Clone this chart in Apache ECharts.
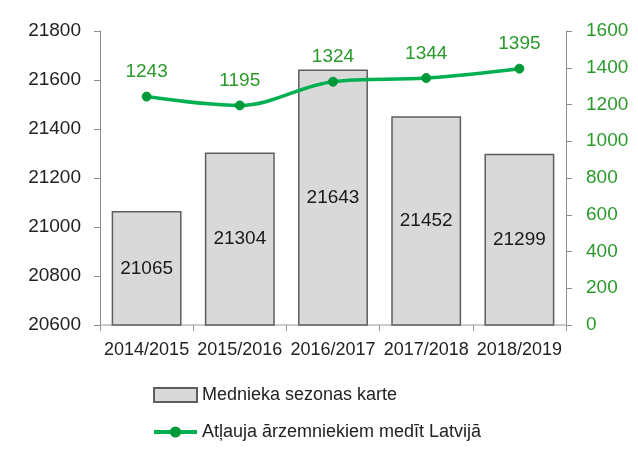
<!DOCTYPE html>
<html>
<head>
<meta charset="utf-8">
<title>Mednieka sezonas karte</title>
<script src="https://cdn.jsdelivr.net/npm/echarts@6/dist/echarts.min.js"></script>
<style>
  html, body { margin: 0; padding: 0; background: #fff; }
  #chart { width: 638px; height: 459px; }
</style>
</head>
<body>
<div id="chart"></div>
<script>
var seasons = ['2014/2015', '2015/2016', '2016/2017', '2017/2018', '2018/2019'];
var seasonCards = [21065, 21304, 21643, 21452, 21299];
var foreignPermits = [1243, 1195, 1324, 1344, 1395];

var green = '#00b050';
var greenText = '#2a9a2a';
var font = 'Liberation Sans';

function plain(v) { return String(v); }

var chart = echarts.init(document.getElementById('chart'));
var option = {
    animation: false,
    textStyle: { fontFamily: font },
    grid: { left: 100, right: 72, top: 31, bottom: 134 },
    legend: {
        orient: 'vertical',
        left: 152,
        top: 386,
        padding: 0,
        itemWidth: 43,
        itemHeight: 14,
        itemGap: 19,
        textStyle: { fontSize: 18, color: '#222', fontFamily: font },
        data: [
            { name: 'Mednieka sezonas karte', icon: 'rect' },
            { name: 'Atļauja ārzemniekiem medīt Latvijā', lineStyle: { width: 4 } }
        ]
    },
    xAxis: {
        type: 'category',
        data: seasons,
        axisLine: { lineStyle: { color: '#bcbcbc', width: 1.5 } },
        axisTick: { show: true, length: 6, lineStyle: { color: '#999' } },
        axisLabel: { fontSize: 18, color: '#222', margin: 16, interval: 0 }
    },
    yAxis: [
        {
            type: 'value',
            min: 20600,
            max: 21800,
            interval: 200,
            axisLine: { show: true, lineStyle: { color: '#8c8c8c' } },
            axisTick: { show: true, length: 6, lineStyle: { color: '#8c8c8c' } },
            axisLabel: { fontSize: 19, color: '#222', margin: 19, formatter: plain },
            splitLine: { show: false }
        },
        {
            type: 'value',
            min: 0,
            max: 1600,
            interval: 200,
            position: 'right',
            axisLine: { show: true, lineStyle: { color: '#8c8c8c' } },
            axisTick: { show: true, length: 6, lineStyle: { color: '#8c8c8c' } },
            axisLabel: { fontSize: 19, color: greenText, margin: 20, formatter: plain },
            splitLine: { show: false }
        }
    ],
    series: [
        {
            name: 'Mednieka sezonas karte',
            type: 'bar',
            yAxisIndex: 0,
            data: seasonCards,
            barCategoryGap: '25%',
            itemStyle: { color: '#d9d9d9', borderColor: '#5e5e5e', borderWidth: 1.5 },
            label: { show: true, position: 'inside', fontSize: 19, color: '#1a1a1a' }
        },
        {
            name: 'Atļauja ārzemniekiem medīt Latvijā',
            type: 'line',
            yAxisIndex: 1,
            data: foreignPermits,
            smooth: 0.35,
            symbol: 'circle',
            symbolSize: 9,
            lineStyle: { color: green, width: 3.5 },
            itemStyle: { color: '#009a3a', borderColor: '#009a3a' },
            label: { show: true, position: 'top', distance: 10, fontSize: 19, color: greenText }
        }
    ]
};
chart.setOption(option);
</script>
</body>
</html>
